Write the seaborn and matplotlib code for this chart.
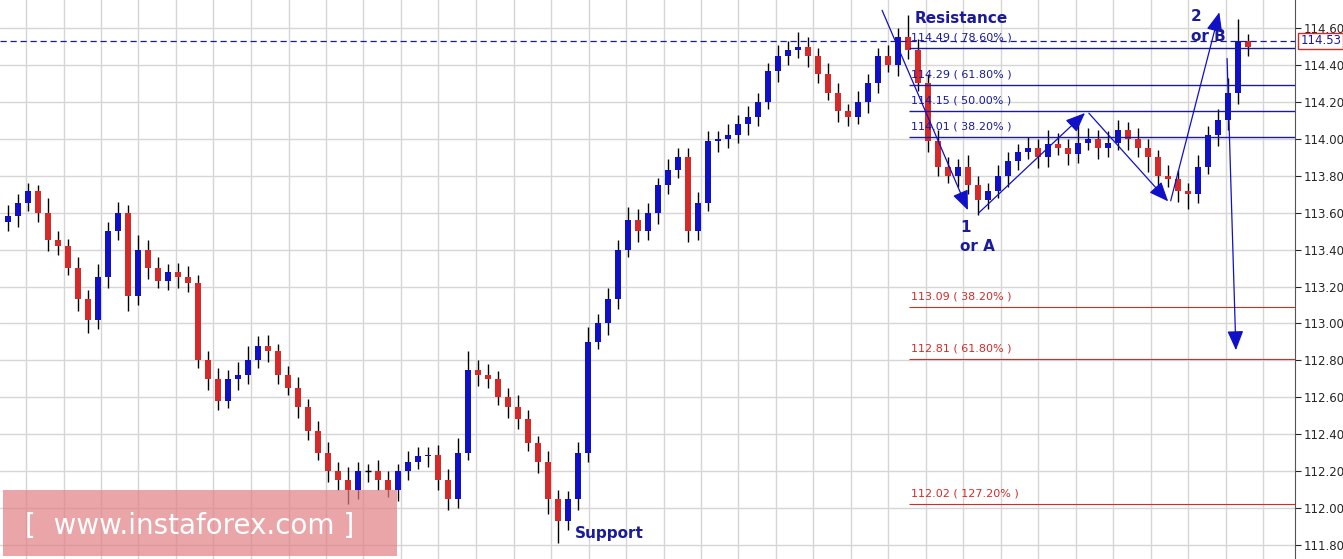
import numpy as np
import matplotlib
matplotlib.use('Agg')
import matplotlib.pyplot as plt
import seaborn as sns

sns.set_style('white')
plt.rcParams['font.family'] = ['DejaVu Sans']

# candle closes (open = previous close)
closes = [113.58, 113.65, 113.72, 113.60, 113.45, 113.42, 113.30, 113.13, 113.02, 113.25,
          113.50, 113.60, 113.15, 113.40, 113.30, 113.23, 113.28, 113.25, 113.22, 112.80,
          112.70, 112.58, 112.70, 112.72, 112.80, 112.88, 112.85, 112.72, 112.65, 112.55,
          112.42, 112.30, 112.20, 112.15, 112.10, 112.20, 112.20, 112.15, 112.10, 112.20,
          112.25, 112.28, 112.29, 112.15, 112.05, 112.30, 112.75, 112.72, 112.70, 112.60,
          112.55, 112.48, 112.35, 112.25, 112.05, 111.93, 112.05, 112.30, 112.90, 113.00,
          113.13, 113.40, 113.56, 113.50, 113.60, 113.75, 113.83, 113.90, 113.50, 113.65,
          113.99, 114.00, 114.02, 114.08, 114.12, 114.20, 114.37, 114.45, 114.48, 114.50,
          114.45, 114.35, 114.25, 114.15, 114.12, 114.20, 114.30, 114.45, 114.40, 114.55,
          114.48, 114.30, 113.99, 113.85, 113.80, 113.85, 113.75, 113.67, 113.72, 113.80,
          113.88, 113.93, 113.95, 113.90, 113.97, 113.95, 113.92, 113.98, 114.00, 113.95,
          113.98, 114.05, 114.00, 113.95, 113.90, 113.80, 113.78, 113.72, 113.70, 113.85,
          114.02, 114.10, 114.25, 114.53, 114.50]
first_open = 113.55
wick_up = [0.06, 0.05, 0.04, 0.03, 0.08, 0.05, 0.04, 0.06, 0.05, 0.07,
           0.05, 0.06, 0.04, 0.08, 0.05, 0.06, 0.04, 0.05, 0.06, 0.04,
           0.05, 0.06, 0.05, 0.07, 0.08, 0.05, 0.06, 0.04, 0.05, 0.06,
           0.04, 0.05, 0.06, 0.05, 0.07, 0.05, 0.04, 0.06, 0.05, 0.04,
           0.06, 0.05, 0.04, 0.05, 0.06, 0.08, 0.10, 0.05, 0.06, 0.04,
           0.05, 0.06, 0.05, 0.04, 0.06, 0.05, 0.04, 0.06, 0.08, 0.05,
           0.06, 0.05, 0.07, 0.06, 0.05, 0.04, 0.06, 0.05, 0.05, 0.06,
           0.05, 0.04, 0.06, 0.05, 0.06, 0.05, 0.04, 0.06, 0.05, 0.08,
           0.05, 0.04, 0.06, 0.05, 0.04, 0.06, 0.05, 0.04, 0.06, 0.05,
           0.12, 0.06, 0.05, 0.06, 0.05, 0.04, 0.06, 0.05, 0.04, 0.06,
           0.05, 0.04, 0.06, 0.05, 0.08, 0.06, 0.05, 0.10, 0.06, 0.05,
           0.06, 0.05, 0.04, 0.06, 0.05, 0.04, 0.06, 0.05, 0.04, 0.06,
           0.05, 0.06, 0.08, 0.12, 0.04]
wick_dn = [0.05, 0.06, 0.04, 0.05, 0.06, 0.05, 0.04, 0.06, 0.07, 0.05,
           0.06, 0.05, 0.08, 0.05, 0.06, 0.04, 0.05, 0.06, 0.05, 0.04,
           0.06, 0.05, 0.04, 0.06, 0.05, 0.04, 0.06, 0.05, 0.04, 0.06,
           0.05, 0.04, 0.06, 0.05, 0.08, 0.05, 0.06, 0.05, 0.04, 0.06,
           0.05, 0.04, 0.06, 0.05, 0.06, 0.05, 0.04, 0.06, 0.05, 0.04,
           0.06, 0.05, 0.04, 0.06, 0.08, 0.12, 0.05, 0.06, 0.05, 0.04,
           0.06, 0.05, 0.04, 0.06, 0.05, 0.06, 0.05, 0.04, 0.06, 0.05,
           0.04, 0.06, 0.05, 0.04, 0.06, 0.05, 0.04, 0.06, 0.05, 0.04,
           0.06, 0.05, 0.04, 0.06, 0.05, 0.04, 0.06, 0.05, 0.04, 0.06,
           0.05, 0.04, 0.06, 0.05, 0.04, 0.06, 0.05, 0.08, 0.05, 0.04,
           0.06, 0.05, 0.04, 0.06, 0.05, 0.04, 0.06, 0.05, 0.04, 0.06,
           0.05, 0.04, 0.06, 0.05, 0.08, 0.05, 0.04, 0.06, 0.08, 0.05,
           0.04, 0.06, 0.05, 0.06, 0.05]

fib_blue = [114.49, 114.29, 114.15, 114.01]
fib_blue_lbl = ['78.60%', '61.80%', '50.00%', '38.20%']
fib_red = [113.09, 112.81, 112.02]
fib_red_lbl = ['38.20%', '61.80%', '127.20%']
last_price = 114.53
yticks = [114.60, 114.40, 114.20, 114.00, 113.80, 113.60, 113.40, 113.20, 113.00,
          112.80, 112.60, 112.40, 112.20, 112.00, 111.80]

BLUE = '#1010c8'
RED = '#d42a2a'
NAVY = '#1a1a9a'

fig = plt.figure(figsize=(13.43, 5.59), dpi=100)
ax = fig.add_axes([0, 0, 1295 / 1343, 1])
ylo, yhi = 111.724, 114.752
ax.set_ylim(ylo, yhi)
ax.set_xlim(-0.5, 129.0)

n = len(closes)
x = np.arange(n) + 0.3
opens = [first_open] + closes[:-1]
for i in range(n):
    o, c = opens[i], closes[i]
    col = BLUE if c >= o else RED
    hi = max(o, c) + wick_up[i]
    lo = min(o, c) - wick_dn[i]
    ax.vlines(x[i], lo, hi, color='black', lw=1, zorder=3)
    h = abs(c - o)
    if h < 0.01:
        ax.hlines(o, x[i] - 0.3, x[i] + 0.3, color='black', lw=1, zorder=4)
    else:
        ax.bar(x[i], h, bottom=min(o, c), width=0.55, color=col, lw=0, zorder=4)

# grid
ax.set_yticks(yticks)
ax.set_xticks(np.arange(2.1, 129, 3.75))
ax.grid(True, color='#d6d6d6', lw=1)
ax.tick_params(axis='x', length=0, labelbottom=False)
ax.yaxis.tick_right()
ax.set_yticklabels([f'{v:.2f}' for v in yticks], fontsize=8.5)
ax.tick_params(axis='y', length=4, pad=2)
for s in ['top', 'left', 'bottom']:
    ax.spines[s].set_visible(False)
ax.spines['right'].set_color('#555555')

# fibonacci levels
x0 = 90.4
for v, l in zip(fib_blue, fib_blue_lbl):
    ax.hlines(v, x0, 129, color=NAVY, lw=1, zorder=5)
    ax.text(x0 + 0.2, v + 0.04, f'{v:.2f} ( {l} )', color=NAVY, fontsize=8, zorder=6)
for v, l in zip(fib_red, fib_red_lbl):
    ax.hlines(v, x0, 129, color=RED, lw=0.8, zorder=5)
    ax.text(x0 + 0.2, v + 0.04, f'{v:.2f} ( {l} )', color=RED, fontsize=8, zorder=6)
ax.axhline(last_price, color=NAVY, lw=0.9, ls=(0, (5, 3)), zorder=5)
ax.text(1.004, last_price, f'{last_price:.2f}', transform=ax.get_yaxis_transform(),
        va='center', ha='left', fontsize=8.5, color=NAVY,
        bbox=dict(boxstyle='square,pad=0.15', fc='white', ec=RED, lw=1), clip_on=False)

# wave arrows
arw = dict(arrowstyle='-|>,head_length=1.2,head_width=0.5', color=BLUE, lw=0.9)
ax.annotate('', xy=(96.4, 113.60), xytext=(87.6, 114.71), arrowprops=arw, zorder=7)
ax.annotate('', xy=(108.2, 114.15), xytext=(97.2, 113.59), arrowprops=arw, zorder=7)
ax.annotate('', xy=(116.5, 113.65), xytext=(108.2, 114.15), arrowprops=arw, zorder=7)
ax.annotate('', xy=(121.5, 114.70), xytext=(116.5, 113.65), arrowprops=arw, zorder=7)
ax.annotate('', xy=(123.1, 112.84), xytext=(122.2, 114.45), arrowprops=arw, zorder=7)

ax.text(91.0, 114.63, 'Resistance', color=NAVY, fontsize=11, fontweight='bold', zorder=8)
ax.text(95.5, 113.39, '1\nor A', color=NAVY, fontsize=11, fontweight='bold',
        ha='left', linespacing=1.4, zorder=8)
ax.text(118.6, 114.53, '2\nor B', color=NAVY, fontsize=11, fontweight='bold',
        ha='left', linespacing=1.4, zorder=8)
ax.text(57.0, 111.84, 'Support', color=NAVY, fontsize=11, fontweight='bold', zorder=8)

# watermark
fig.patches.append(plt.Rectangle((3 / 1343, 3 / 559), 394 / 1343, 66 / 559,
                                 transform=fig.transFigure, fc='#e07f84', alpha=0.7,
                                 ec='none', zorder=10))
fig.text(25 / 1343, 33 / 559, '[  www.instaforex.com ]', color='white', fontsize=20,
         va='center', ha='left', zorder=11)

fig.savefig('out.png', dpi=100)
